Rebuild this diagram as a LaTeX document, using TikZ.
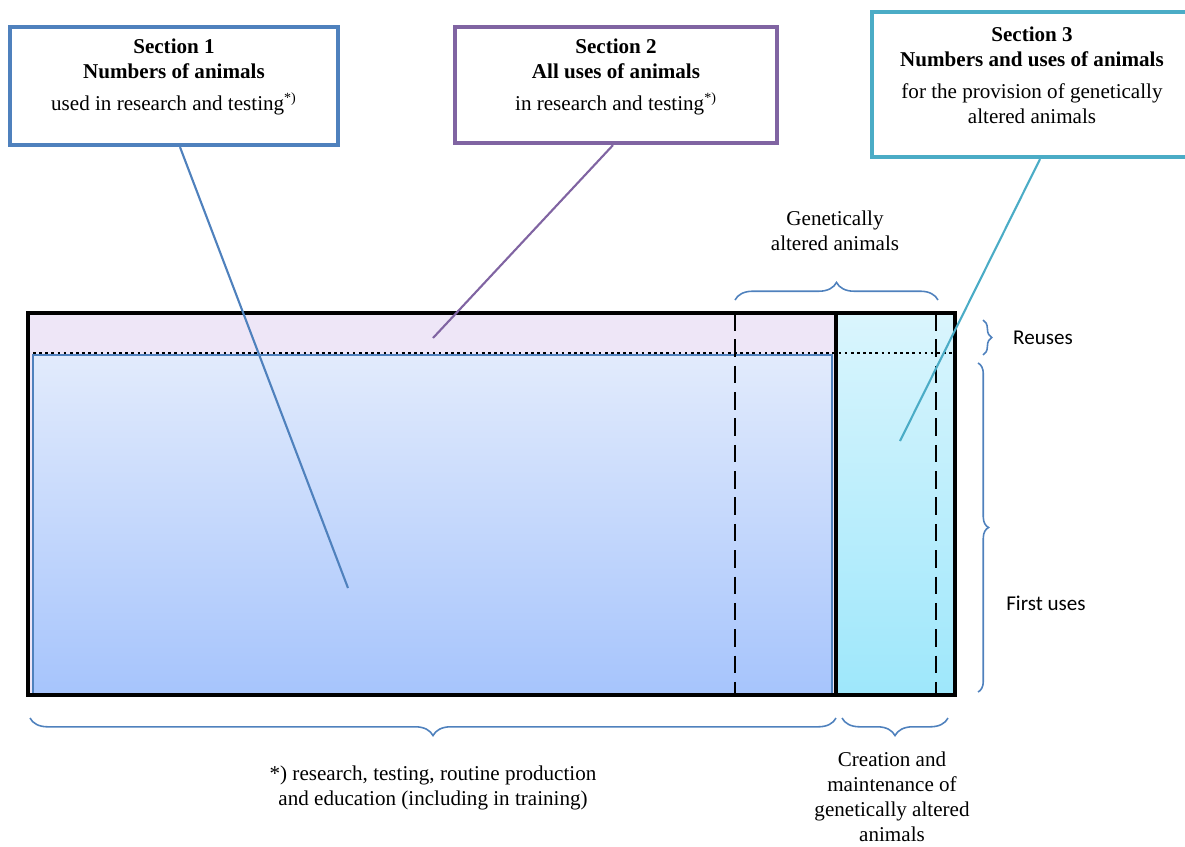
\documentclass[tikz,border=0pt]{standalone}
\usepackage{fontspec}
\setmainfont{Liberation Serif}
\newfontfamily\sidefont{Carlito}
\usetikzlibrary{decorations.pathreplacing}
\definecolor{secblue}{HTML}{4F81BD}
\definecolor{secpurple}{HTML}{8064A2}
\definecolor{secteal}{HTML}{4BACC6}
\definecolor{reuselilac}{HTML}{EEE6F7}
\definecolor{firsttop}{RGB}{226,235,252}
\definecolor{firstbottom}{RGB}{166,196,252}
\definecolor{gatop}{RGB}{218,245,253}
\definecolor{gabottom}{RGB}{158,231,251}
\tikzset{
	secbox/.style={draw, line width=2.4pt, fill=white, inner sep=0pt},
	sectext/.style={align=center, font=\fontsize{12}{14.2}\selectfont},
	bracetext/.style={align=center, font=\fontsize{12}{14.2}\selectfont},
	bluebrace/.style={draw=secblue, line width=0.9pt, decorate, decoration={brace, amplitude=#1}}
}
\begin{document}
\begin{tikzpicture}[x=0.02cm, y=-0.02cm]
			%%%%% START %%%%%
			\useasboundingbox (0, 0) rectangle (1185, 846);
			
			\fill[reuselilac] (28, 313) rectangle (955, 695);
			\draw[secblue, line width=0.6pt, top color=firsttop, bottom color=firstbottom] (33, 355) rectangle (832, 695);
			\shade[top color=gatop, bottom color=gabottom] (836, 313) rectangle (955, 695);
			
			\draw[line width=1.5pt, dotted] (33, 353) -- (952, 353);
			\draw[line width=1.6pt, dash pattern=on 10pt off 5pt] (735, 313) -- (735, 695);
			\draw[line width=1.6pt, dash pattern=on 10pt off 5pt] (936, 313) -- (936, 695);
			
			\draw[line width=2.2pt] (836, 313) rectangle (955, 695);
			\draw[line width=2.2pt] (28, 313) rectangle (955, 695);
			
			% braces
			\draw[bluebrace=10pt] (735, 300) -- (938, 300);
			\draw[bluebrace=5pt] (983, 320) -- (983, 355);
			\draw[bluebrace=6pt] (978, 363) -- (978, 692);
			\draw[bluebrace=10pt, decoration={mirror}] (30, 718) -- (836, 718);
			\draw[bluebrace=10pt, decoration={mirror}] (842, 718) -- (948, 718);
			
			\node (gatext) [bracetext] at (835, 231) {Genetically\\altered animals};
			\node (reusetext) [bracetext, font=\sidefont\fontsize{12}{14.2}\selectfont] at (1043, 338) {Reuses};
			\node (firsttext) [bracetext, font=\sidefont\fontsize{12}{14.2}\selectfont] at (1046, 603) {First uses};
			\node (purposetext) [bracetext] at (433, 788) {*) research, testing, routine production\\and education (including in training)};
			\node (creationtext) [bracetext] at (892, 797) {Creation and\\maintenance of\\genetically altered\\animals};
			
			% section boxes
			\node (sec1) [secbox, draw=secblue, minimum width=6.56cm, minimum height=2.36cm] at (174, 86) {};
			\node (sec2) [secbox, draw=secpurple, minimum width=6.44cm, minimum height=2.32cm] at (616, 85) {};
			\node (sec3) [secbox, draw=secteal, minimum width=6.36cm, minimum height=2.9cm] at (1031, 84.5) {};
			
			\node (sec1txt) [sectext] at (174, 77) {\textbf{Section 1}\\\textbf{Numbers of animals}\\[4pt]used in research and testing\textsuperscript{*)}};
			\node (sec2txt) [sectext] at (616, 77) {\textbf{Section 2}\\\textbf{All uses of animals}\\[4pt]in research and testing\textsuperscript{*)}};
			\node (sec3txt) [sectext] at (1032, 75) {\textbf{Section 3}\\\textbf{Numbers and uses of animals}\\[4pt]for the provision of genetically\\altered animals};
			
			\coordinate (firstpt) at (348, 588);
			\coordinate (reusept) at (433, 338);
			\coordinate (gapt) at (900, 441);
			
			\draw[secblue, line width=1.2pt] ([xshift=0.12cm]sec1.south) -- (firstpt);
			\draw[secpurple, line width=1.2pt] ([xshift=-0.06cm]sec2.south) -- (reusept);
			\draw[secteal, line width=1.2pt] ([xshift=0.18cm]sec3.south) -- (gapt);
			
			%%%%% END %%%%%
\end{tikzpicture}
\end{document}
